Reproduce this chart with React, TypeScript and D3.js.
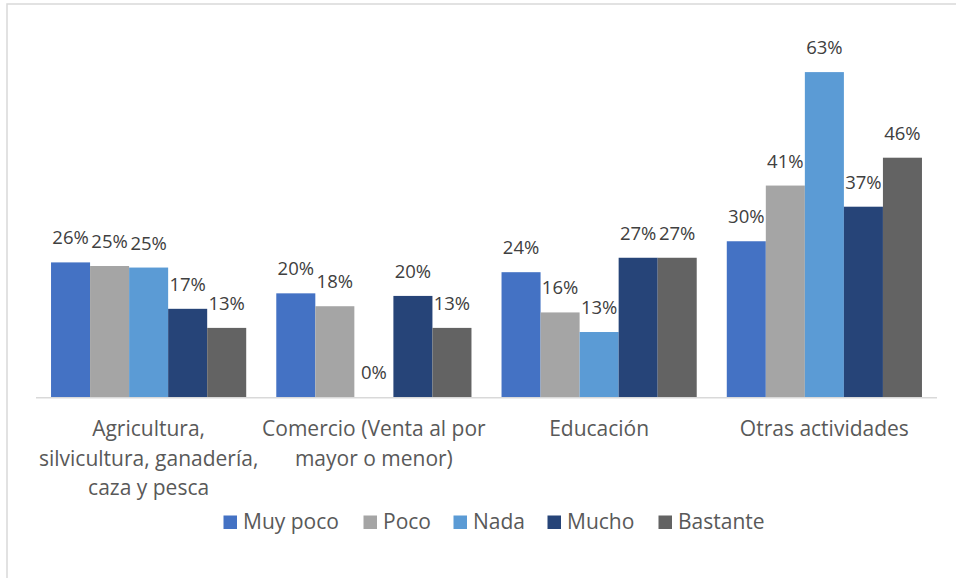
import React from "react";
import * as d3 from "d3";

const categories: string[][] = [
  ["Agricultura,", "silvicultura, ganadería,", "caza y pesca"],
  ["Comercio (Venta al por", "mayor o menor)"],
  ["Educación"],
  ["Otras actividades"],
];
const seriesNames = ["Muy poco", "Poco", "Nada", "Mucho", "Bastante"];
const seriesColors = ["#4472C4", "#A5A5A5", "#5B9BD5", "#264478", "#636363"];
const muyPoco = [0.261, 0.201, 0.242, 0.302];
const poco = [0.254, 0.176, 0.164, 0.41];
const nada = [0.251, 0.0, 0.126, 0.63];
const mucho = [0.171, 0.196, 0.27, 0.369];
const bastante = [0.134, 0.134, 0.27, 0.464];
const seriesValues = [muyPoco, poco, nada, mucho, bastante];

const W = 956;
const H = 578;
const FONT = "'Open Sans', 'Liberation Sans', sans-serif";

export default function App() {
  const x0 = d3
    .scaleBand<number>()
    .domain(d3.range(categories.length))
    .range([36, 937])
    .paddingInner(0)
    .paddingOuter(0);
  const x1 = d3
    .scaleBand<number>()
    .domain(d3.range(seriesNames.length))
    .range([0, x0.bandwidth()])
    .paddingInner(0)
    .paddingOuter(0.385);
  const y = d3.scaleLinear().domain([0, 0.7]).range([397, 36]);
  const fmt = d3.format(".0%");

  const legendX = [223.5, 363.5, 453.5, 547.5, 658.5];

  return (
    <div style={{ position: "absolute", left: 0, top: 0 }}>
      <svg width={W} height={H} style={{ display: "block", fontFamily: FONT }}>
        <rect x={0} y={0} width={W} height={H} fill="#ffffff" />
        <rect x={7} y={4} width={W + 20} height={H + 20} fill="none" stroke="#d9d9d9" strokeWidth={1.5} />
        {seriesValues.map((vals, si) =>
          vals.map((v, ci) => {
            const bx = (x0(ci) as number) + (x1(si) as number);
            const bw = x1.bandwidth();
            return (
              <g key={`${si}-${ci}`}>
                <rect x={bx} y={y(v)} width={bw} height={y(0) - y(v)} fill={seriesColors[si]} />
                <text
                  x={bx + bw / 2}
                  y={y(v) - 18}
                  textAnchor="middle"
                  fontSize={18.5}
                  fill="#404040"
                >
                  {fmt(v)}
                </text>
              </g>
            );
          })
        )}
        <line x1={36} x2={937} y1={397.8} y2={397.8} stroke="#d9d9d9" strokeWidth={1.6} />
        {categories.map((lines, ci) => (
          <text
            key={ci}
            x={(x0(ci) as number) + x0.bandwidth() / 2}
            y={436}
            textAnchor="middle"
            fontSize={21}
            fill="#595959"
          >
            {lines.map((l, li) => (
              <tspan key={li} x={(x0(ci) as number) + x0.bandwidth() / 2} dy={li === 0 ? 0 : 29.5}>
                {l}
              </tspan>
            ))}
          </text>
        ))}
        {seriesNames.map((n, si) => (
          <g key={n}>
            <rect x={legendX[si]} y={515.5} width={13.5} height={13.5} fill={seriesColors[si]} />
            <text x={legendX[si] + 19.5} y={528.5} fontSize={21} fill="#595959">
              {n}
            </text>
          </g>
        ))}
      </svg>
    </div>
  );
}
